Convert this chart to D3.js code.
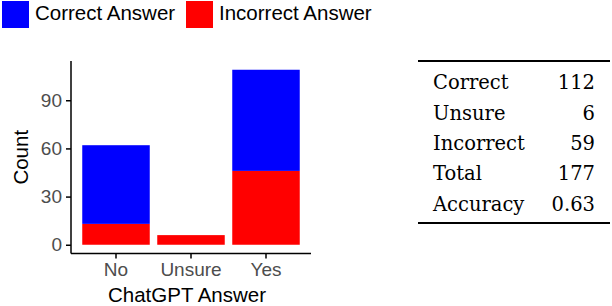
<!DOCTYPE html>
<html lang="en">
<head>
<meta charset="UTF-8">
<title>ChatGPT Answer Count</title>
<script src="https://cdnjs.cloudflare.com/ajax/libs/d3/7.8.5/d3.min.js"></script>
<style>
  body { margin: 0; background: #fff; }
  svg { display: block; }
  .axis path, .axis line { stroke: #000; stroke-width: 1.5; }
  .axis text { fill: #4d4d4d; font-family: "Liberation Sans", Arial, sans-serif; font-size: 19px; }
  .lab { font-family: "Liberation Sans", Arial, sans-serif; font-size: 20.5px; fill: #000; }
  .tab { font-family: "DejaVu Serif", serif; font-size: 19.5px; fill: #000; }
</style>
</head>
<body>
<svg id="chart" width="612" height="306"></svg>
<script>
// bar data
const categories = ['No', 'Unsure', 'Yes'];
const correctCounts = [49, 0, 63];
const incorrectCounts = [13, 6, 46];
const yTicks = [0, 30, 60, 90];

// legend
const seriesNames = ['Correct Answer', 'Incorrect Answer'];
const seriesColors = ['#0000ff', '#ff0000'];

// summary table
const tableLabels = ['Correct', 'Unsure', 'Incorrect', 'Total', 'Accuracy'];
const tableValues = ['112', '6', '59', '177', '0.63'];

const svg = d3.select('#chart');

const plotLeft = 71, plotRight = 311, plotTop = 61, plotBottom = 253.5;
const yMax = d3.max(categories, (c, i) => correctCounts[i] + incorrectCounts[i]);
const pad = yMax * 0.05;

const x = d3.scaleBand().domain(categories).range([plotLeft, plotRight])
  .paddingInner(0.1).paddingOuter(0.15);
const y = d3.scaleLinear().domain([-pad, yMax + pad]).range([plotBottom, plotTop]);

// stacked bars: incorrect at bottom, correct on top
const stacked = categories.map((c, i) => ({
  cat: c,
  parts: [
    { y0: 0, y1: incorrectCounts[i], color: seriesColors[1] },
    { y0: incorrectCounts[i], y1: incorrectCounts[i] + correctCounts[i], color: seriesColors[0] }
  ].filter(p => p.y1 > p.y0)
}));

svg.selectAll('g.bar')
  .data(stacked)
  .enter().append('g')
  .attr('class', 'bar')
  .selectAll('rect')
  .data(d => d.parts.map(p => Object.assign({ cat: d.cat }, p)))
  .enter().append('rect')
  .attr('x', d => x(d.cat))
  .attr('width', x.bandwidth())
  .attr('y', d => y(d.y1))
  .attr('height', d => y(d.y0) - y(d.y1))
  .attr('fill', d => d.color);

// axes
svg.append('g')
  .attr('class', 'axis')
  .attr('transform', `translate(${plotLeft},0)`)
  .call(d3.axisLeft(y).tickValues(yTicks).tickSize(5).tickPadding(4).tickSizeOuter(0))
  .call(g => g.select('.domain').attr('d', `M0,${plotTop}V${plotBottom}`));

svg.append('g')
  .attr('class', 'axis')
  .attr('transform', `translate(0,${plotBottom})`)
  .call(d3.axisBottom(x).tickSize(5).tickPadding(4).tickSizeOuter(0))
  .call(g => g.select('.domain').attr('d', `M${plotLeft},0H${plotRight}`));

// axis titles
svg.append('text')
  .attr('class', 'lab')
  .attr('x', (plotLeft + plotRight) / 2 - 4)
  .attr('y', 302)
  .attr('text-anchor', 'middle')
  .text('ChatGPT Answer');

svg.append('text')
  .attr('class', 'lab')
  .attr('transform', `translate(28,${(plotTop + plotBottom) / 2}) rotate(-90)`)
  .attr('text-anchor', 'middle')
  .text('Count');

// legend
const legendX = [2, 186];
seriesNames.forEach((name, i) => {
  svg.append('rect')
    .attr('x', legendX[i]).attr('y', 1)
    .attr('width', 27).attr('height', 27)
    .attr('fill', seriesColors[i]);
  svg.append('text')
    .attr('class', 'lab')
    .attr('x', legendX[i] + 33).attr('y', 20)
    .text(name);
});

// table
const tabLeft = 418, tabRight = 610;
const rowY = d3.scalePoint().domain(tableLabels).range([89.3, 210.7]);

svg.append('line')
  .attr('x1', tabLeft).attr('x2', tabRight)
  .attr('y1', 61).attr('y2', 61)
  .attr('stroke', '#000').attr('stroke-width', 2);
svg.append('line')
  .attr('x1', tabLeft).attr('x2', tabRight)
  .attr('y1', 223).attr('y2', 223)
  .attr('stroke', '#000').attr('stroke-width', 2);

svg.selectAll('text.tl')
  .data(tableLabels)
  .enter().append('text')
  .attr('class', 'tab tl')
  .attr('x', 433)
  .attr('y', d => rowY(d))
  .text(d => d);

svg.selectAll('text.tv')
  .data(tableValues)
  .enter().append('text')
  .attr('class', 'tab tv')
  .attr('x', 595)
  .attr('y', (d, i) => rowY(tableLabels[i]))
  .attr('text-anchor', 'end')
  .text(d => d);
</script>
</body>
</html>
